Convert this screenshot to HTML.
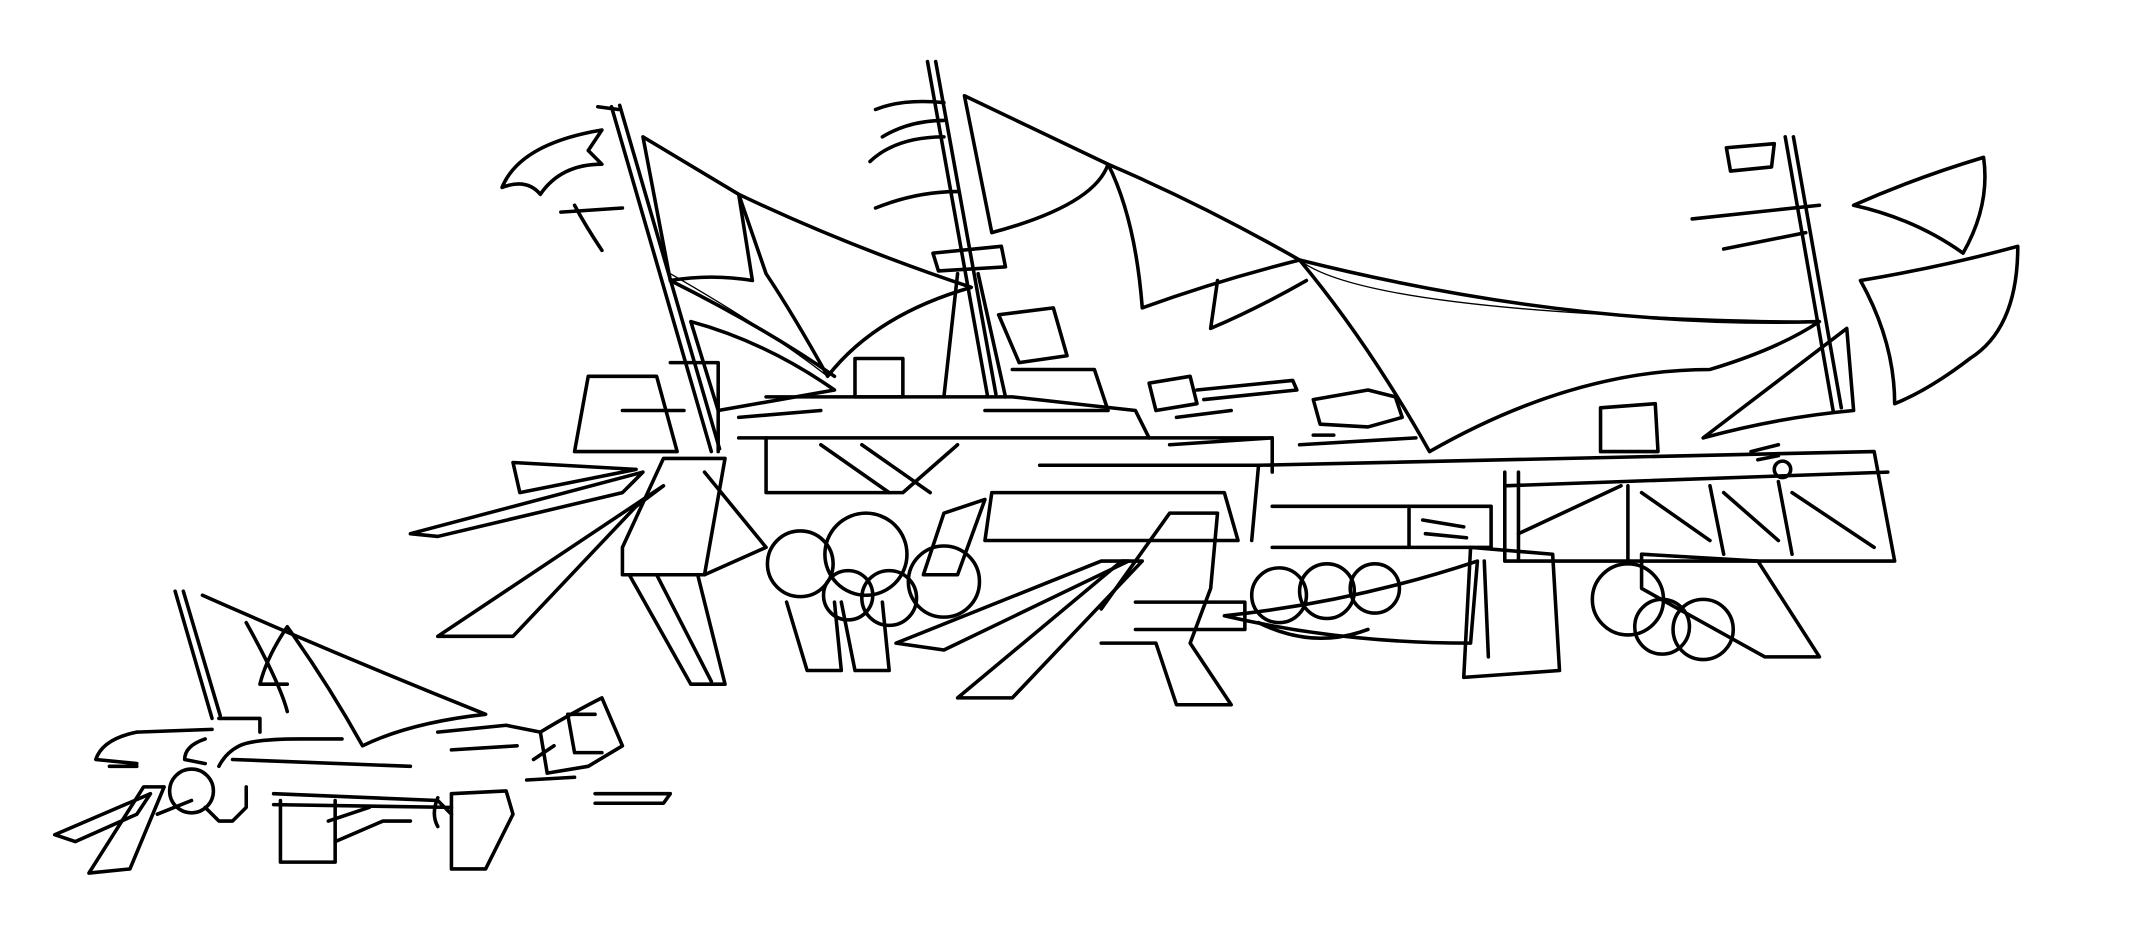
<!DOCTYPE html>
<html><head><meta charset="utf-8"><style>html,body{margin:0;padding:0;background:#fff}svg{display:block}</style></head>
<body>
<svg width="2145" height="936" viewBox="0 0 1568 684" preserveAspectRatio="none" xmlns="http://www.w3.org/2000/svg">
<g fill="none" stroke="#000" stroke-width="2.6" stroke-linejoin="round" stroke-linecap="round">
<!-- left flag & mast -->
<path d="M367,137 Q380,105 440,95 L430,110 L440,120 Q410,120 395,142 Q385,130 367,137Z"/>
<path d="M420,150 Q428,165 440,183"/>
<path d="M410,155 L455,152"/>
<path d="M447,78 L520,330 M453,77 L526,328"/>
<path d="M437,78 L452,80"/>
<!-- left sails -->
<path d="M470,100 L540,142 L550,205 Q520,200 490,205 Z"/>
<path d="M540,142 Q620,180 710,210 Q640,230 605,275 Q580,230 560,200 Z"/>
<path d="M490,205 Q560,240 610,275"/>
<path d="M505,235 L525,300 L610,285 Q560,250 505,235Z"/>
<!-- middle mast & flags -->
<path d="M678,45 L722,290 M684,45 L728,288"/>
<path d="M640,80 Q660,72 690,75 M636,118 Q655,100 690,100 M640,152 Q670,140 700,140 M645,100 Q665,88 690,88"/>
<path d="M682,185 L732,180 L735,195 L686,198Z"/>
<path d="M700,200 L690,290 M715,200 L735,290"/>
<!-- big middle sail -->
<path d="M705,70 L810,120 Q800,150 725,170 Q715,120 705,70Z"/>
<path d="M810,120 Q830,160 835,225 Q890,205 950,190 Q880,150 810,120Z"/>
<path d="M950,190 Q1000,250 1045,330 Q1150,270 1250,270 Q1300,255 1330,235 Q1150,240 950,190Z"/>
<path d="M890,205 L885,240 Q920,225 955,205"/>
<path d="M950,190 Q1000,230 1330,235" stroke-width="1"/>
<path d="M490,200 Q560,240 605,275" stroke-width="1"/>
<!-- right mast and flags -->
<path d="M1305,100 L1340,300 M1311,100 L1346,298"/>
<path d="M1262,108 L1297,105 L1295,122 L1265,125Z"/>
<path d="M1237,160 L1330,150 M1260,182 L1320,170"/>
<path d="M1355,150 Q1400,130 1450,115 Q1455,150 1435,185 Q1400,160 1355,150Z"/>
<path d="M1360,205 Q1420,195 1475,180 Q1475,240 1440,262 Q1410,285 1385,295 Q1385,250 1360,205Z"/>
<path d="M1245,320 L1350,240 L1355,300 Q1300,305 1245,320Z"/>
<!-- upper hull structures -->
<path d="M420,330 L430,275 L480,275 L495,330 Z M455,300 L500,300 M490,265 L525,265 L525,330"/>
<path d="M625,262 L660,262 L660,290 L625,290Z"/>
<path d="M730,230 L770,225 L780,260 L745,265 Z M740,270 L800,270 L810,300 L720,300"/>
<path d="M560,290 L740,290 L830,300 L840,320 M540,305 L600,300"/>
<path d="M840,280 L870,275 L875,295 L845,300Z M875,285 L945,278 L948,285 L880,292 M860,305 L900,300 M855,325 L930,320"/>
<path d="M960,292 L1000,285 L1020,290 L1025,305 L1000,312 L965,310Z M950,325 L1035,320 M960,318 L975,318"/>
<path d="M1170,298 L1210,295 L1212,330 L1170,330Z"/>
<!-- main deck -->
<path d="M540,320 L930,320 L930,345 M920,340 L1370,330 L1385,410 L1100,410 M920,340 L915,395"/>
<path d="M560,320 L560,360 L660,360 L700,325 M600,325 L650,360 M630,325 L680,360"/>
<path d="M760,340 L920,340 M725,360 L895,360 L905,395 L720,395 Z"/>
<path d="M930,370 L1090,370 L1090,400 L930,400"/>
<path d="M1030,372 L1030,400 M1040,380 L1070,385 M1042,390 L1072,393"/>
<path d="M1100,345 L1100,410 M1110,345 L1110,410 M1100,355 L1380,345 M1190,355 L1190,410 M1250,355 L1260,405 M1300,352 L1310,405"/>
<path d="M1110,390 L1185,355 M1200,360 L1250,395 M1260,360 L1300,395 M1310,360 L1370,400"/>
<circle cx="1303" cy="343" r="6"/>
<path d="M1280,330 L1300,325 M1285,336 L1300,333"/>
<!-- left fins & pillars -->
<path d="M375,338 L465,343 L380,360 Z"/>
<path d="M300,390 L470,345 L455,360 L320,392Z"/>
<path d="M320,465 L485,355 L465,370 L375,465Z"/>
<path d="M455,400 L485,335 L530,335 L515,420 L455,420Z"/>
<path d="M460,420 L505,500 L530,500 L510,420 M480,420 L520,498"/>
<path d="M515,345 L560,400 M515,420 L560,400"/>
<path d="M575,440 L590,490 L615,490 L610,440 M615,440 L625,490 L650,490 L645,440"/>
<path d="M690,375 L720,365 L700,420 L675,420Z"/>
<!-- spheres -->
<circle cx="585" cy="412" r="24"/><circle cx="633" cy="405" r="30"/>
<circle cx="620" cy="435" r="18"/><circle cx="650" cy="437" r="20"/>
<circle cx="690" cy="425" r="26"/>
<circle cx="935" cy="435" r="20"/><circle cx="970" cy="432" r="20"/><circle cx="1005" cy="430" r="18"/>
<circle cx="1190" cy="438" r="26"/><circle cx="1215" cy="458" r="20"/><circle cx="1245" cy="460" r="22"/>
<path d="M920,455 Q960,475 1000,460"/>
<!-- middle fins -->
<path d="M655,470 L805,410 L825,410 L690,475Z"/>
<path d="M700,510 L820,410 L835,410 L740,510 Z"/>
<path d="M805,445 L855,375 L890,375 L885,430 L870,470 L900,515 L860,515 L845,470 L805,470"/>
<path d="M830,440 L910,440 L910,460 L830,460"/>
<path d="M895,450 Q990,440 1080,410 L1075,470 Q980,470 895,450Z"/>
<path d="M1075,400 L1135,405 L1140,490 L1070,495Z M1085,410 L1088,480"/>
<path d="M1200,405 L1285,410 L1330,480 L1290,480 L1200,430Z"/>
<!-- small ship -->
<path d="M128,432 L155,525 M134,432 L161,523"/>
<path d="M148,435 Q250,480 355,522 Q300,528 265,545 Q240,500 210,458 Q195,480 190,500 L210,500"/>
<path d="M180,455 Q205,500 210,520"/>
<path d="M435,522 L415,522 L420,550 L440,550"/>
<path d="M100,535 L155,533 M160,525 L190,525 L190,535"/>
<path d="M100,535 Q75,540 70,555 L100,558"/>
<path d="M80,560 L100,560 M150,540 Q135,545 135,555 L150,558 M175,545 Q165,550 160,560"/>
<path d="M170,555 L300,560 M175,545 Q185,540 220,540 L250,540"/>
<path d="M200,580 L320,585 L330,595 M200,588 L330,590"/>
<path d="M205,585 L205,630 L245,630 L245,585"/>
<path d="M240,600 L270,590 M245,615 L280,600 M280,600 L300,600"/>
<circle cx="140" cy="578" r="16"/>
<path d="M150,590 L160,600 L170,600 L180,590 L180,575"/>
<path d="M40,610 L110,580 L100,595 L55,615Z"/>
<path d="M65,638 L105,575 L120,575 L95,635Z"/>
<path d="M115,595 L140,585"/>
<path d="M320,535 L370,530 L395,535 M330,548 L378,545"/>
<path d="M330,580 L370,578 L375,595 L355,635 L330,635Z"/>
<path d="M320,583 Q315,595 320,604"/>
<path d="M395,535 Q420,520 440,510 L455,545 L430,560 L400,565 Z"/>
<path d="M435,580 L490,580 L485,587 L435,587"/>
<path d="M390,555 L405,545 M385,570 L420,568"/>
</g>
</svg>
</body></html>
